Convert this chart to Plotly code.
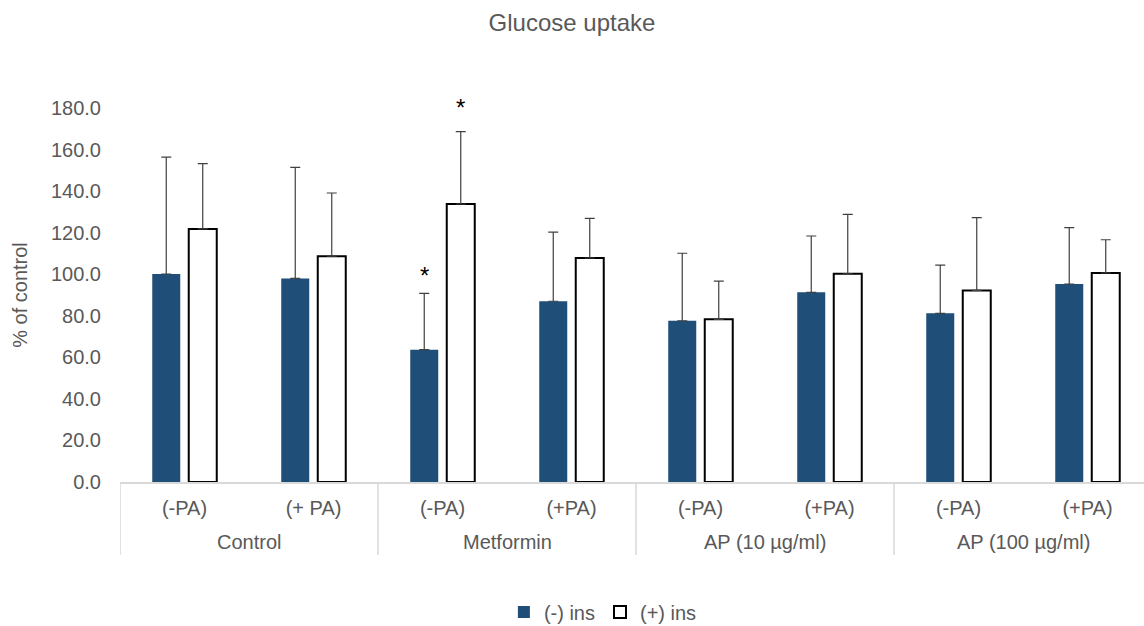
import plotly.graph_objects as go

groups = ["Control", "Metformin", "AP (10 µg/ml)", "AP (100 µg/ml)"]
subs = ["(-PA)", "(+ PA)", "(-PA)", "(+PA)", "(-PA)", "(+PA)", "(-PA)", "(+PA)"]
subs_per_group = 2

minus_ins = [100.1, 98.0, 63.7, 87.0, 77.6, 91.3, 81.2, 95.3]
minus_err = [56.3, 53.4, 27.1, 33.3, 32.5, 27.1, 23.2, 27.1]
plus_ins = [121.8, 108.7, 133.8, 107.8, 78.3, 100.2, 92.2, 100.6]
plus_err = [31.4, 30.4, 34.8, 19.1, 18.4, 28.6, 35.0, 16.0]

# significance stars: (category index, series side, y value)
star_idx = [2, 2]
star_side = [-1, 1]
star_y = [101.0, 181.5]

Y_MAX = 180
FONT = "Liberation Sans, Arial, sans-serif"
TXT = "#595959"
GRID = "#D9D9D9"

xpos = list(range(len(subs)))

fig = go.Figure()
fig.add_trace(go.Bar(
    name="(-) ins", x=xpos, y=minus_ins,
    marker=dict(color="#1F4E79", line=dict(width=0)),
    error_y=dict(type="data", symmetric=False, array=minus_err,
                 arrayminus=[0] * len(minus_err), color="#404040",
                 thickness=1.2, width=5),
))
fig.add_trace(go.Bar(
    name="(+) ins", x=xpos, y=plus_ins,
    marker=dict(color="white", line=dict(color="black", width=2)),
    error_y=dict(type="data", symmetric=False, array=plus_err,
                 arrayminus=[0] * len(plus_err), color="#404040",
                 thickness=1.2, width=5),
))

bargap = 0.434
slot = (1 - bargap) / 2
for i, s, yv in zip(star_idx, star_side, star_y):
    fig.add_annotation(x=i + s * slot / 2, y=yv / Y_MAX, text="*", showarrow=False,
                       xref="x", yref="paper", yanchor="middle", yshift=-3,
                       font=dict(size=24, color="black", family=FONT))

# group labels and dividers under the category axis
for g, name in enumerate(groups):
    centre = g * subs_per_group + (subs_per_group - 1) / 2
    fig.add_annotation(x=centre, y=-60 / 374, xref="x", yref="paper",
                       text=name, showarrow=False, yanchor="middle",
                       font=dict(size=20, color=TXT, family=FONT))
    xd = g * subs_per_group - 0.5
    fig.add_shape(type="line", xref="x", yref="paper", x0=xd, x1=xd,
                  y0=0, y1=-73 / 374, line=dict(color=GRID, width=1.5))

fig.update_layout(
    width=1144, height=626,
    paper_bgcolor="white", plot_bgcolor="white",
    margin=dict(l=120, r=0, t=108, b=144),
    barmode="group", bargap=bargap, bargroupgap=0.233,
    font=dict(family=FONT, size=20, color=TXT),
    title=dict(text="Glucose uptake", x=0.5, xref="container", xanchor="center",
               y=1 - 23 / 626, yref="container", yanchor="middle",
               font=dict(size=24, color=TXT, family=FONT)),
    legend=dict(orientation="h", xref="container", yref="container",
                x=0.527, xanchor="center", y=1 - 612 / 626, yanchor="middle",
                font=dict(size=20, color=TXT, family=FONT)),
    showlegend=True,
)
fig.update_xaxes(
    tickmode="array", tickvals=xpos, ticktext=subs,
    showline=True, linecolor=GRID, linewidth=1.5,
    ticks="", showgrid=False, zeroline=False, range=[-0.5, 7.438],
    ticklabelstandoff=7,
    tickfont=dict(size=20, color=TXT, family=FONT),
)
fig.update_yaxes(
    range=[0, Y_MAX], dtick=20, tickformat=".1f", showgrid=False, zeroline=False,
    showline=False, ticks="", ticklabelstandoff=18,
    tickfont=dict(size=20, color=TXT, family=FONT),
    title=dict(text="% of control", font=dict(size=20, color=TXT, family=FONT), standoff=17),
)

fig.write_html("out.html")
